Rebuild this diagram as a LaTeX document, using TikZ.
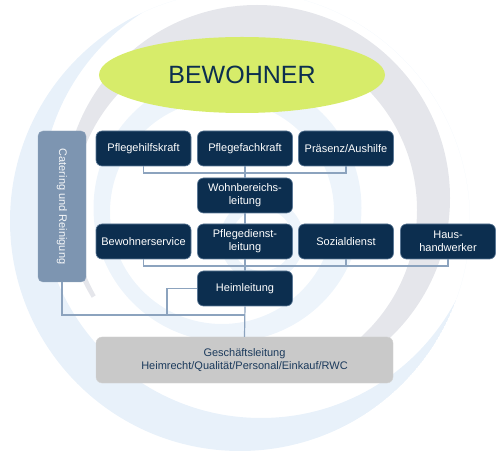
\documentclass[tikz,border=0pt]{standalone}
\usepackage{fontspec}
\setmainfont{Liberation Sans}
\usetikzlibrary{shapes.geometric}
\definecolor{navy}{HTML}{0C2E4F}
\definecolor{navyedge}{HTML}{5B7896}
\definecolor{catfill}{HTML}{7D95B1}
\definecolor{conncol}{HTML}{8CA3BE}
\definecolor{glfill}{HTML}{C9C9C9}
\definecolor{gltext}{HTML}{1B3A5C}
\definecolor{lime}{HTML}{D7EC6A}
\definecolor{lblue}{HTML}{E8F1FA}
\definecolor{lblue2}{HTML}{EDF4FB}
\definecolor{lgray}{HTML}{E5E6EB}
\tikzset{
  x=1pt, y=1pt,
  navybox/.style={draw=navyedge, line width=0.6pt, fill=navy, rounded corners=6pt,
    text=white, font=\fontsize{11}{13}\selectfont, align=center,
    minimum width=95pt, minimum height=35pt, inner sep=1pt},
  conn/.style={draw=conncol, line width=1.2pt},
}
\begin{document}
\begin{tikzpicture}
\path[use as bounding box] (0,0) rectangle (500,455);
% background swirl: gray swoosh
\begin{scope}
  \clip (0,455) -- (500,455) -- (500,155) -- (352,90) -- (257,257) -- (88,155) -- (0,155) -- cycle;
  \fill[lgray, even odd rule] (257,257) circle (193pt) (245,245) circle (172pt);
\end{scope}
% outer light blue crescent
\begin{scope}
  \clip (240,234) circle (230pt);
  \fill[lblue, even odd rule] (240,234) circle (230pt) (261,257) circle (220pt);
\end{scope}
% inner light blue rings
\fill[lblue2, even odd rule] (227.5,247) circle (134pt) (222,243) circle (112pt);
\fill[lblue2, even odd rule] (262,215) circle (42pt) (262,215) circle (31pt);

% nodes
\node[ellipse, fill=lime, minimum width=286pt, minimum height=76pt, inner sep=0pt,
  text=navy, font=\fontsize{25}{30}\selectfont] (bew) at (242,380) {BEWOHNER};
\node[fill=catfill, draw=catfill!85!white, rounded corners=5pt, minimum width=151pt, minimum height=48pt,
  rotate=-90, text=white!92!catfill, font=\fontsize{11}{13}\selectfont, inner sep=0pt] (cat) at (62,248.5) {Catering und Reinigung};
\node[navybox] (phk) at (143.5,306.5) {Pflegehilfskraft};
\node[navybox] (pfk) at (245,306.5) {Pflegefachkraft};
\node[navybox] (pra) at (346,306.5) {Präsenz/Aushilfe};
\node[navybox] (wbl) at (245,259.5) {Wohnbereichs-\\leitung};
\node[navybox] (bws) at (143.5,213.5) {Bewohnerservice};
\node[navybox] (pdl) at (245,213.5) {Pflegedienst-\\leitung};
\node[navybox] (soz) at (346,213.5) {Sozialdienst};
\node[navybox] (hhw) at (448,213.5) {Haus-\\handwerker};
\node[navybox] (hl) at (245,166.5) {Heimleitung};
\node[fill=glfill, draw=glfill!80!white, rounded corners=6pt, minimum width=297pt, minimum height=46pt,
  text=gltext, align=center, font=\fontsize{11}{13}\selectfont, inner sep=0pt] (gl) at (244.5,95)
  {Geschäftsleitung\\Heimrecht/Qualität/Personal/Einkauf/RWC};

% connector junctions
\coordinate (b1) at (245,282);
\coordinate (b3) at (245,189);
\coordinate (k) at (167,140);
\coordinate (b5) at (245,140);

\draw[conn] (phk.south) |- (b1) -| (pra.south);
\draw[conn] (pfk.south) -- (wbl.north);
\draw[conn] (wbl.south) -- (pdl.north);
\draw[conn] (bws.south) |- (b3) -| (hhw.south);
\draw[conn] (soz.south) -- (soz.south |- b3);
\draw[conn] (pdl.south) -- (hl.north);
\draw[conn] (hl.west) -| (k);
\draw[conn] (cat.east) |- (b5);
\draw[conn] (hl.south) -- (gl.north);
\end{tikzpicture}
\end{document}
